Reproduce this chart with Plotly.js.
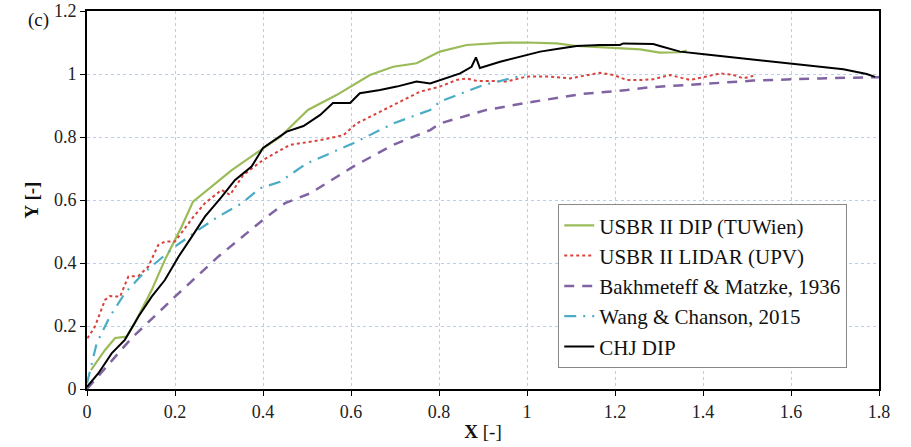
<!DOCTYPE html>
<html>
<head>
<meta charset="utf-8">
<script src="https://cdn.plot.ly/plotly-3.0.1.min.js"></script>
<style>html,body{margin:0;padding:0;background:#fff;}#chart{width:911px;height:447px;}</style>
</head>
<body>
<div id="chart"></div>
<script>
// USBR II DIP (TUWien)
const tuwienX = [0.009,0.041,0.064,0.09,0.109,0.147,0.177,0.215,0.241,0.283,0.329,0.393,0.439,0.502,0.567,0.643,0.696,0.749,0.78,0.802,0.863,0.939,0.999,1.067,1.113,1.204,1.257,1.302,1.348,1.363];
const tuwienY = [0.06,0.124,0.162,0.166,0.21,0.314,0.41,0.515,0.595,0.642,0.695,0.757,0.80,0.886,0.933,0.997,1.023,1.034,1.055,1.071,1.092,1.099,1.10,1.097,1.089,1.081,1.078,1.068,1.069,1.074];

// USBR II LIDAR (UPV)
const upvX = [0.001,0.018,0.041,0.052,0.075,0.094,0.117,0.139,0.162,0.177,0.2,0.242,0.268,0.295,0.306,0.325,0.355,0.4,0.461,0.53,0.583,0.613,0.666,0.727,0.757,0.802,0.84,0.863,0.886,0.923,0.954,0.999,1.052,1.098,1.136,1.166,1.196,1.227,1.257,1.287,1.325,1.37,1.408,1.439,1.469,1.492,1.514];
const upvY = [0.161,0.198,0.283,0.295,0.293,0.357,0.359,0.388,0.457,0.468,0.468,0.547,0.59,0.621,0.632,0.616,0.679,0.727,0.775,0.79,0.806,0.843,0.88,0.923,0.944,0.96,0.981,0.986,0.978,0.978,0.976,0.992,0.992,0.986,0.997,1.004,0.997,0.981,0.981,0.983,0.997,0.981,0.992,1.002,0.997,0.986,0.994];

// Bakhmeteff & Matzke, 1936
const bakhX = [0,0.048,0.101,0.2,0.298,0.4,0.45,0.507,0.605,0.696,0.78,0.802,0.908,1.014,1.128,1.227,1.28,1.363,1.514,1.666,1.8];
const bakhY = [0,0.076,0.161,0.293,0.42,0.537,0.59,0.621,0.706,0.775,0.822,0.843,0.886,0.912,0.937,0.949,0.958,0.965,0.979,0.986,0.99];

// Wang & Chanson, 2015
const wangX = [0,0.007,0.022,0.052,0.086,0.128,0.155,0.2,0.253,0.298,0.352,0.393,0.439,0.499,0.605,0.696,0.78,0.802,0.901,0.995];
const wangY = [0.018,0.06,0.145,0.23,0.304,0.367,0.399,0.452,0.505,0.547,0.59,0.637,0.658,0.716,0.78,0.843,0.886,0.912,0.965,0.997];

// CHJ DIP
const chjX = [0,0.026,0.056,0.086,0.117,0.147,0.177,0.208,0.238,0.268,0.306,0.336,0.374,0.4,0.454,0.492,0.53,0.559,0.598,0.62,0.666,0.704,0.749,0.78,0.848,0.874,0.884,0.893,0.939,0.999,1.03,1.075,1.113,1.166,1.211,1.219,1.287,1.302,1.348,1.408,1.469,1.537,1.598,1.658,1.719,1.772,1.791];
const chjY = [0.007,0.05,0.113,0.156,0.23,0.293,0.346,0.42,0.483,0.547,0.61,0.663,0.706,0.765,0.817,0.835,0.87,0.908,0.908,0.939,0.949,0.96,0.976,0.97,1.002,1.023,1.053,1.019,1.039,1.06,1.071,1.081,1.089,1.092,1.092,1.097,1.095,1.089,1.071,1.062,1.053,1.042,1.034,1.026,1.015,1.0,0.991];

const xTicks = [0,0.2,0.4,0.6,0.8,1,1.2,1.4,1.6,1.8];
const xTickText = ['0','0.2','0.4','0.6','0.8','1','1.2','1.4','1.6','1.8'];
const yTicks = [0,0.2,0.4,0.6,0.8,1,1.2];
const yTickText = ['0','0.2','0.4','0.6','0.8','1','1.2'];

const serif = '"Liberation Serif", "Times New Roman", serif';

const traces = [
  {x: tuwienX, y: tuwienY, name: 'USBR II DIP (TUWien)', mode: 'lines', line: {color: '#9BBB59', width: 2.2}},
  {x: upvX, y: upvY, name: 'USBR II LIDAR (UPV)', mode: 'lines', line: {color: '#D9413B', width: 2, dash: 'dot'}},
  {x: bakhX, y: bakhY, name: 'Bakhmeteff & Matzke, 1936', mode: 'lines', line: {color: '#8064A2', width: 2.5, dash: '10px,8px'}},
  {x: wangX, y: wangY, name: 'Wang & Chanson, 2015', mode: 'lines', line: {color: '#4BACC6', width: 2.2, dash: '12px,7px,2px,7px'}},
  {x: chjX, y: chjY, name: 'CHJ DIP', mode: 'lines', line: {color: '#000000', width: 2}}
];

const layout = {
  width: 911, height: 447,
  margin: {l: 87, r: 32, t: 11, b: 58},
  paper_bgcolor: '#fff', plot_bgcolor: '#fff',
  font: {family: serif, color: '#222', size: 18},
  showlegend: true,
  legend: {
    x: 0.595, y: 0.489, xanchor: 'left', yanchor: 'top',
    bgcolor: '#fff', bordercolor: '#888', borderwidth: 1,
    font: {family: serif, size: 21, color: '#111'},
    tracegroupgap: 0, itemwidth: 30
  },
  xaxis: {
    range: [0, 1.8], tickvals: xTicks, ticktext: xTickText,
    showline: true, linecolor: '#000', linewidth: 2, mirror: true,
    ticks: 'outside', ticklen: 5, tickcolor: '#000', tickwidth: 1,
    showgrid: true, gridcolor: '#b9cdee', griddash: 'dot', gridwidth: 1,
    zeroline: false,
    tickfont: {family: serif, size: 18, color: '#222'},
    title: {text: '<b>X</b> [-]', font: {family: serif, size: 19, color: '#111'}, standoff: 4}
  },
  yaxis: {
    range: [0, 1.2], tickvals: yTicks, ticktext: yTickText,
    showline: true, linecolor: '#000', linewidth: 2, mirror: true,
    ticks: 'outside', ticklen: 5, tickcolor: '#000', tickwidth: 1,
    showgrid: true, gridcolor: '#b9cdee', griddash: 'dot', gridwidth: 1,
    zeroline: false,
    tickfont: {family: serif, size: 18, color: '#222'},
    title: {text: '<b>Y [-]</b>', font: {family: serif, size: 19, color: '#111'}, standoff: 10}
  },
  annotations: [
    {text: '(c)', xref: 'paper', yref: 'paper', x: -0.077, y: 0.977, xanchor: 'left', yanchor: 'middle', showarrow: false, font: {family: serif, size: 19, color: '#111'}}
  ]
};

Plotly.newPlot('chart', traces, layout, {displayModeBar: false, staticPlot: true});
</script>
</body>
</html>
